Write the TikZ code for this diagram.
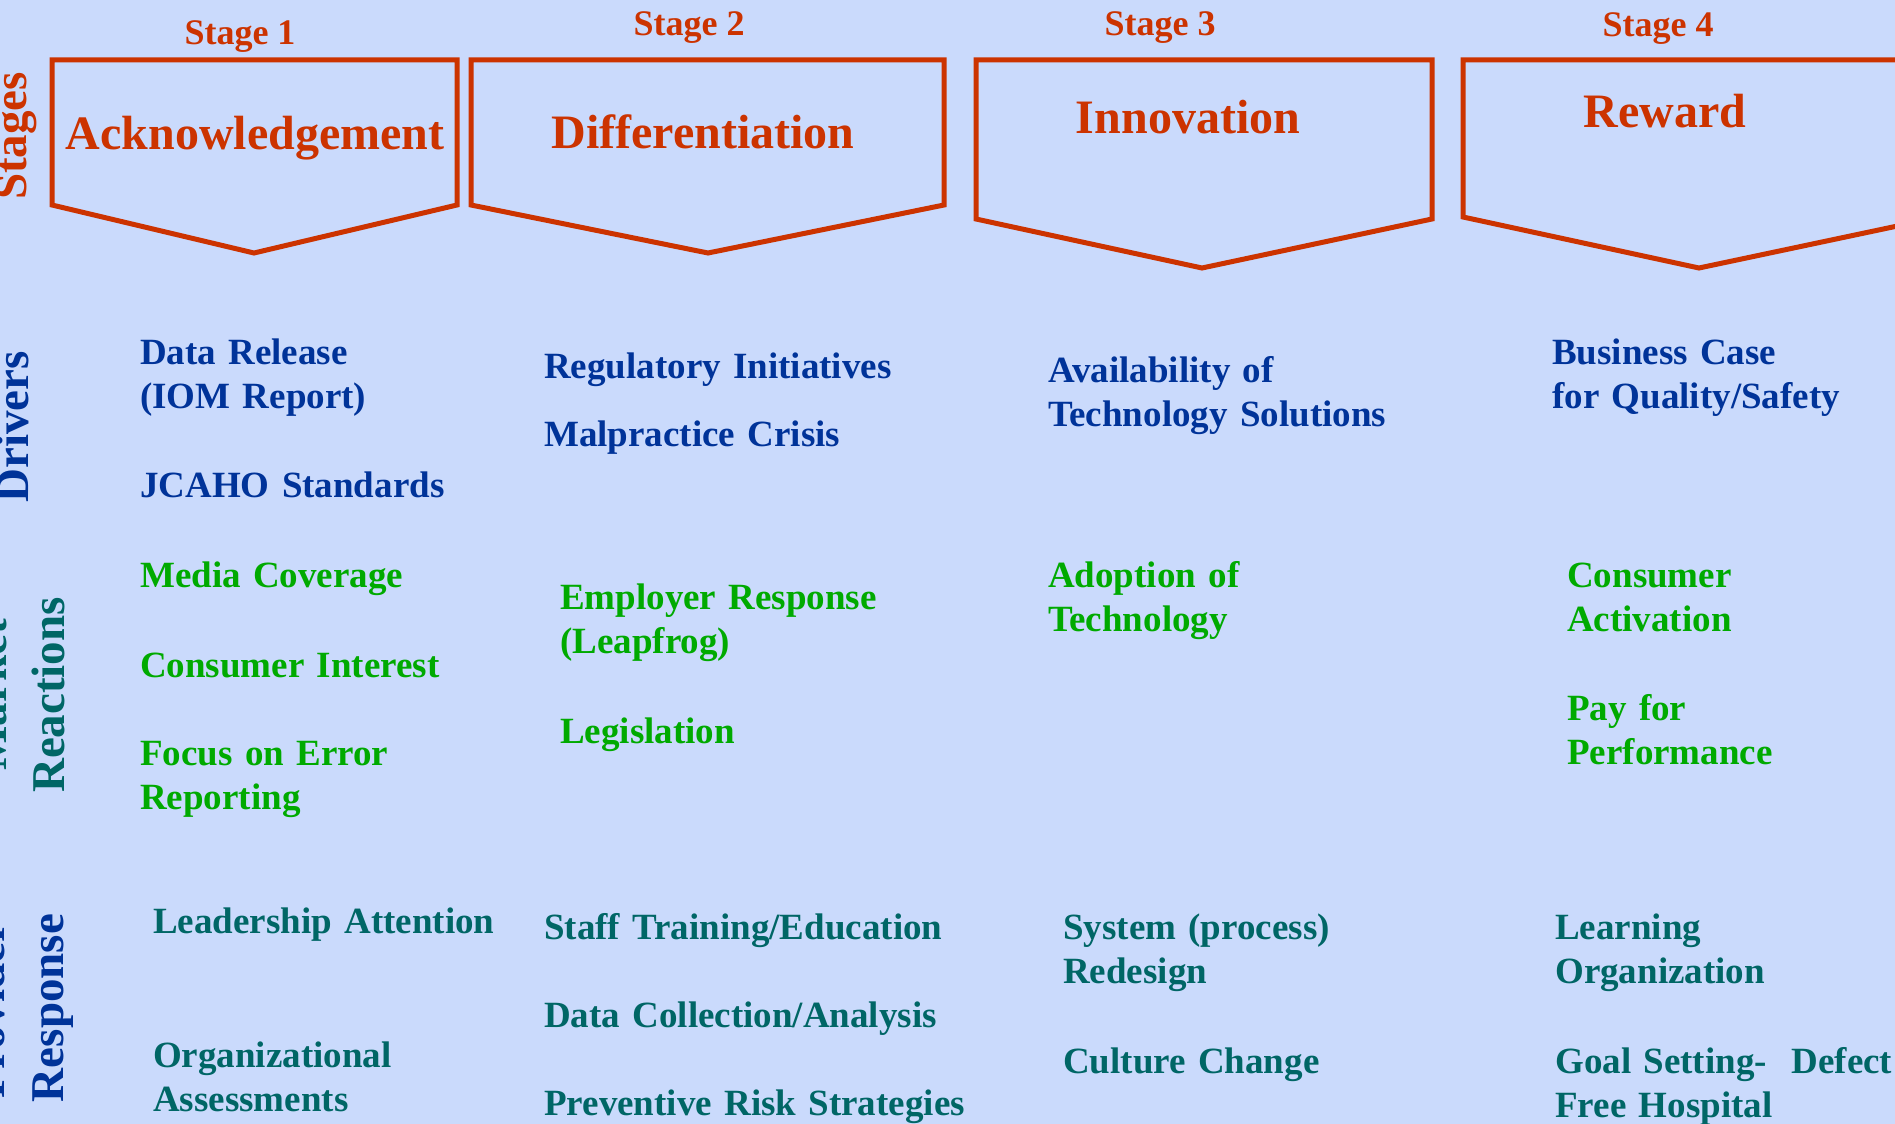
\documentclass[tikz,border=0pt]{standalone}
\usepackage{fontspec}
\setmainfont{Liberation Serif}
\definecolor{bgc}{RGB}{202,218,252}
\definecolor{redc}{RGB}{204,51,0}
\definecolor{bluec}{RGB}{0,51,153}
\definecolor{greenc}{RGB}{0,170,0}
\definecolor{tealc}{RGB}{0,102,102}
\begin{document}
\begin{tikzpicture}[x=1pt,y=1pt,
  stagelbl/.style={font=\fontsize{36}{43}\selectfont\bfseries, text=redc, inner sep=0, anchor=base},
  boxtitle/.style={font=\fontsize{48}{56}\selectfont\bfseries, text=redc, inner sep=0, anchor=base},
  chev/.style={draw=redc, line width=5pt, line join=miter},
  sidelbl/.style={font=\fontsize{47}{56}\selectfont\bfseries, inner sep=0, anchor=base, rotate=90},
  item/.style={font=\fontsize{37}{44}\selectfont\bfseries, inner sep=0, anchor=base west, text width=900pt, align=left},
  drv/.style={item, text=bluec},
  mkt/.style={item, text=greenc},
  prv/.style={item, text=tealc}]
\useasboundingbox (0,0) rectangle (1895,-1124);
\fill[bgc] (0,0) rectangle (1895,-1124);
\clip (0,0) rectangle (1895,-1124);

% chevrons
\draw[chev] (52,-60) -- (457,-60) -- (457,-205) -- (254,-253) -- (52,-205) -- cycle;
\draw[chev] (471,-60) -- (944,-60) -- (944,-205) -- (708,-253) -- (471,-205) -- cycle;
\draw[chev] (976,-60) -- (1432,-60) -- (1432,-219) -- (1202,-268) -- (976,-219) -- cycle;
\draw[chev] (1463,-60) -- (1940,-60) -- (1940,-217) -- (1699,-268) -- (1463,-217) -- cycle;

% stage labels
\node[stagelbl] (s1) at (240,-45) {Stage 1};
\node[stagelbl] (s2) at (689,-36) {Stage 2};
\node[stagelbl] (s3) at (1160,-36) {Stage 3};
\node[stagelbl] (s4) at (1658,-37) {Stage 4};

% box titles
\node[boxtitle] (t1) at (255,-149) {Acknowledgement};
\node[boxtitle] (t2) at (703,-148) {Differentiation};
\node[boxtitle] (t3) at (1188,-133) {Innovation};
\node[boxtitle] (t4) at (1665,-127) {Reward};

% side labels
\node[sidelbl, text=redc] (lstages) at (27,-136) {Stages};
\node[sidelbl, text=bluec] (ldrivers) at (28,-427) {Drivers};
\node[sidelbl, text=tealc] (lmarket) at (6,-695) {Market};
\node[sidelbl, text=tealc] (lreact) at (64,-695) {Reactions};
\node[sidelbl, text=bluec] (lprov) at (5,-1010) {Provider};
\node[sidelbl, text=bluec] (lresp) at (63,-1008) {Response};

% column 1
\node[drv] (d11) at (140,-364) {Data Release\\(IOM Report)};
\node[drv] (d12) at (140,-497) {JCAHO Standards};
\node[mkt] (m11) at (140,-587) {Media Coverage};
\node[mkt] (m12) at (140,-677) {Consumer Interest};
\node[mkt] (m13) at (140,-765) {Focus on Error\\Reporting};
\node[prv] (p11) at (153,-933) {Leadership Attention};
\node[prv] (p12) at (153,-1067) {Organizational\\Assessments};

% column 2
\node[drv] (d21) at (544,-378) {Regulatory Initiatives};
\node[drv] (d22) at (544,-446) {Malpractice Crisis};
\node[mkt] (m21) at (560,-609) {Employer Response\\(Leapfrog)};
\node[mkt] (m22) at (560,-743) {Legislation};
\node[prv] (p21) at (544,-939) {Staff Training/Education};
\node[prv] (p22) at (544,-1027) {Data Collection/Analysis};
\node[prv] (p23) at (544,-1115) {Preventive Risk Strategies};

% column 3
\node[drv] (d31) at (1048,-382) {Availability of\\Technology Solutions};
\node[mkt] (m31) at (1048,-587) {Adoption of\\Technology};
\node[prv] (p31) at (1063,-939) {System (process)\\Redesign};
\node[prv] (p32) at (1063,-1073) {Culture Change};

% column 4
\node[drv] (d41) at (1552,-364) {Business Case\\for Quality/Safety};
\node[mkt] (m41) at (1567,-587) {Consumer\\Activation};
\node[mkt] (m42) at (1567,-720) {Pay for\\Performance};
\node[prv] (p41) at (1555,-939) {Learning\\Organization};
\node[prv] (p42) at (1555,-1073) {Goal Setting-\ \ Defect\\Free Hospital};
\end{tikzpicture}
\end{document}
